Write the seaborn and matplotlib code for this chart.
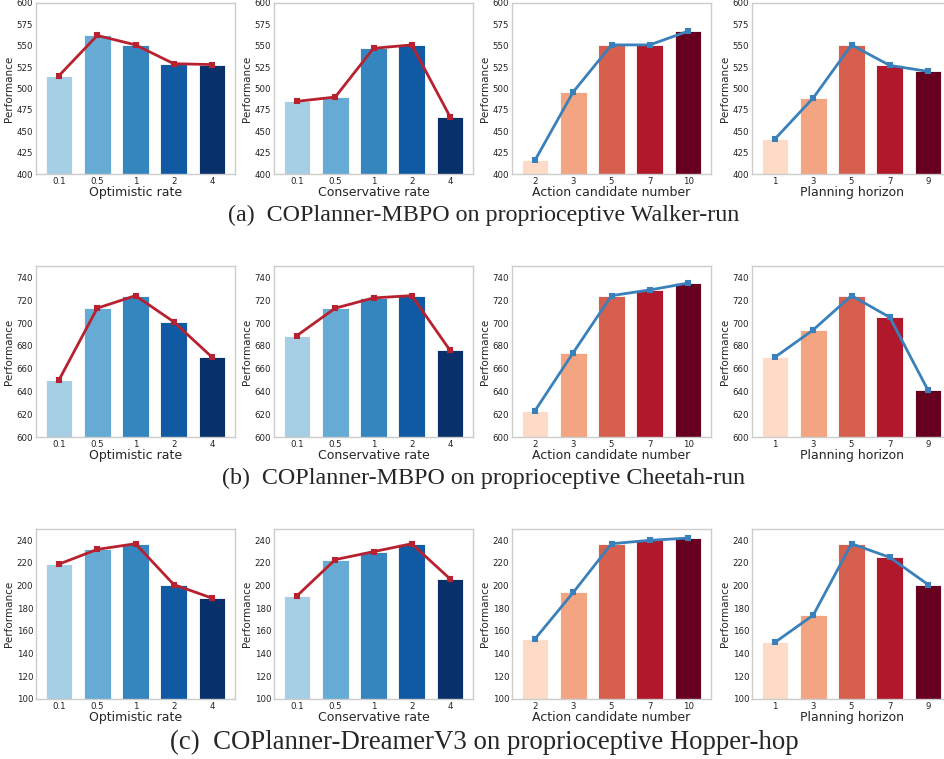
import numpy as np
import pandas as pd
import seaborn as sns
import matplotlib.pyplot as plt

sns.set_theme(style="white")

# x categories for each column
opt_rates = ["0.1", "0.5", "1", "2", "4"]
cons_rates = ["0.1", "0.5", "1", "2", "4"]
action_nums = ["2", "3", "5", "7", "10"]
horizons = ["1", "3", "5", "7", "9"]

xlabels = ["Optimistic rate", "Conservative rate", "Action candidate number", "Planning horizon"]

# (a) Walker-run
walker_opt = [515, 562, 551, 529, 528]
walker_cons = [485, 490, 547, 551, 467]
walker_act = [416, 496, 551, 551, 567]
walker_hor = [441, 489, 551, 527, 520]

# (b) Cheetah-run
cheetah_opt = [650, 713, 724, 701, 670]
cheetah_cons = [689, 713, 722, 724, 676]
cheetah_act = [623, 674, 724, 729, 735]
cheetah_hor = [670, 694, 724, 705, 641]

# (c) Hopper-hop
hopper_opt = [219, 232, 237, 201, 189]
hopper_cons = [191, 223, 230, 237, 206]
hopper_act = [153, 194, 237, 240, 242]
hopper_hor = [150, 174, 237, 225, 201]

captions = [
    "(a)  COPlanner-MBPO on proprioceptive Walker-run",
    "(b)  COPlanner-MBPO on proprioceptive Cheetah-run",
    "(c)  COPlanner-DreamerV3 on proprioceptive Hopper-hop",
]
cap_sizes = [17.3, 17.3, 19.3]

rows = [
    [walker_opt, walker_cons, walker_act, walker_hor],
    [cheetah_opt, cheetah_cons, cheetah_act, cheetah_hor],
    [hopper_opt, hopper_cons, hopper_act, hopper_hor],
]
xcats = [opt_rates, cons_rates, action_nums, horizons]
ylims = [(400, 600), (600, 750), (100, 250)]
yticks = [np.arange(400, 601, 25), np.arange(600, 741, 20), np.arange(100, 241, 20)]

blues = [plt.cm.Blues(v) for v in np.linspace(0.35, 1.0, 5)]
reds = [plt.cm.RdBu_r(v) for v in np.linspace(0.6, 1.0, 5)]
red_line = "#b8212f"
blue_line = "#3a80ba"

W, H = 944, 759
fig = plt.figure(figsize=(W / 100, H / 100), dpi=100)

col_left = [36, 274, 512, 752]
ax_w = 199
row_top = [3, 266, 529]
row_bot = [174, 437, 699]
cap_y = [215, 478, 742]

for r in range(3):
    for c in range(4):
        l, t, b = col_left[c], row_top[r], row_bot[r]
        ax = fig.add_axes([l / W, 1 - b / H, ax_w / W, (b - t) / H])
        df = pd.DataFrame({"x": xcats[c], "y": rows[r][c]})
        pal = blues if c < 2 else reds
        lc = red_line if c < 2 else blue_line
        sns.barplot(data=df, x="x", y="y", hue="x", palette=pal, legend=False,
                    saturation=1, width=0.7, edgecolor="white", linewidth=0.6, ax=ax)
        sns.pointplot(data=df, x="x", y="y", color=lc, markers="s",
                      markersize=2.8, linewidth=2, ax=ax)
        ax.set_ylim(*ylims[r])
        ax.set_yticks(yticks[r])
        ax.set_xlim(-0.6, 4.6)
        ax.set_xlabel(xlabels[c], fontsize=9, labelpad=0.5)
        ax.set_ylabel("Performance", fontsize=7.5, labelpad=2)
        ax.tick_params(axis="both", length=0, pad=2, labelsize=6.2, colors="#222222")
        for s in ax.spines.values():
            s.set_color("#cccccc")
            s.set_linewidth(1.0)
    fig.text(484 / W, 1 - cap_y[r] / H, captions[r], ha="center", va="center",
             fontsize=cap_sizes[r], family="Liberation Serif")

fig.savefig("out.png", dpi=100)
